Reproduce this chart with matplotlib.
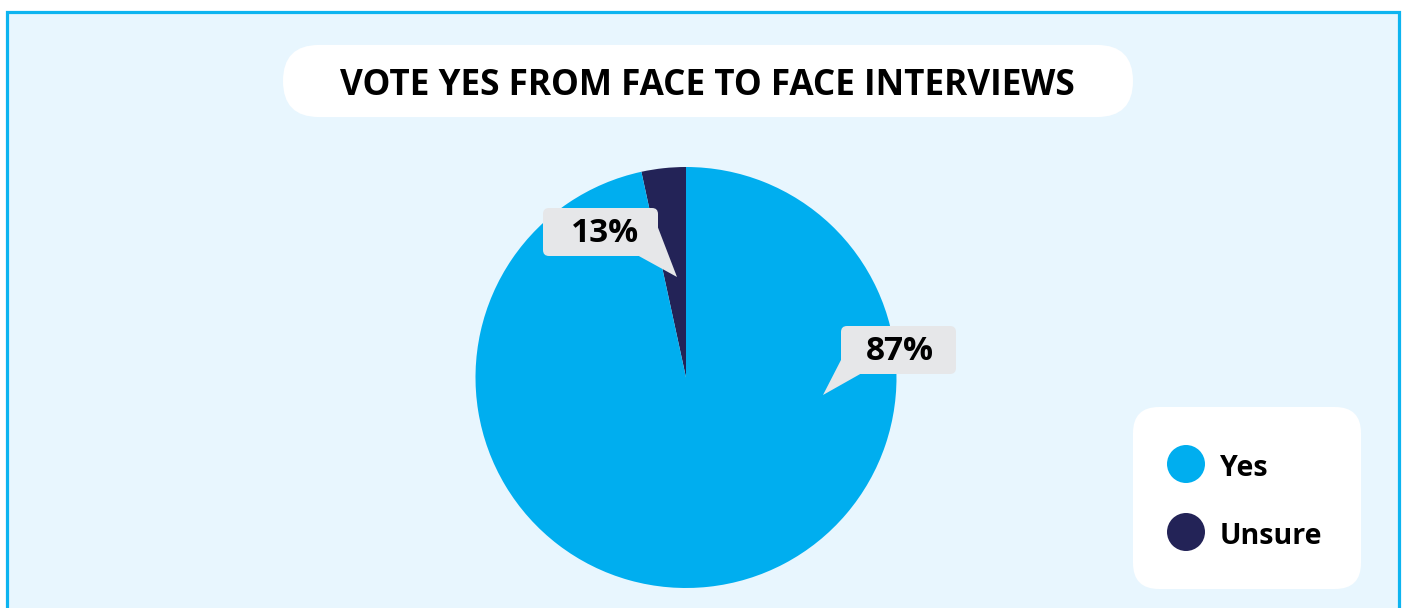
import matplotlib.pyplot as plt
from matplotlib.patches import FancyBboxPatch, Polygon, Rectangle, Circle

W, H = 1402, 608

# data
categories = ['Yes', 'Unsure']
shares     = [96.6, 3.4]          # slice sizes as drawn
pct_labels = ['87%', '13%']       # labels as printed on the chart
colors     = ['#00AEEF', '#232357']
title      = 'VOTE YES FROM FACE TO FACE INTERVIEWS'

BG      = '#E8F6FE'
BORDER  = '#0DB4F0'
CALLOUT = '#E6E7E9'
FONT    = ['Open Sans', 'DejaVu Sans']


def Y(y):
    # pixel row (top = 0) -> axes y
    return H - y


fig = plt.figure(figsize=(W / 100, H / 100), dpi=100)
fig.patch.set_facecolor('white')
ax = fig.add_axes([0, 0, 1, 1])

# background panel with blue border
ax.add_patch(Rectangle((6.5, Y(700)), 1392, 700 - 11.5, facecolor=BG,
                       edgecolor=BORDER, linewidth=2.3, zorder=0))

# title pill
ax.add_patch(FancyBboxPatch((283 + 36, Y(81) - 0.05), 850 - 72, 0.1,
                            boxstyle='round,pad=36', facecolor='white',
                            edgecolor='none', zorder=1))
ax.text(707, Y(86), title, ha='center', va='center', fontsize=25.3,
        fontweight='bold', family=FONT, color='black', zorder=2)

# pie: Unsure first so it sits just left of 12 o'clock
ax.pie(shares[::-1], colors=colors[::-1], startangle=90, counterclock=True,
       center=(686, Y(377.5)), radius=210.5,
       wedgeprops=dict(linewidth=0), frame=True)

# callouts
callouts = [
    # box (x0, y0, x1, y1), tail polygon, text x offset, label
    ((543, 208, 658, 256), [(637, 255), (677, 277), (657, 225)], 5, pct_labels[1]),
    ((841, 326, 956, 374), [(842, 358), (823, 395), (862, 373)], 1, pct_labels[0]),
]
for (x0, y0, x1, y1), tail, dx, lab in callouts:
    r = 6
    ax.add_patch(FancyBboxPatch((x0 + r, Y(y1) + r), (x1 - x0) - 2 * r,
                                (y1 - y0) - 2 * r, boxstyle=f'round,pad={r}',
                                facecolor=CALLOUT, edgecolor='none', zorder=3))
    ax.add_patch(Polygon([(px, Y(py)) for px, py in tail], closed=True,
                         facecolor=CALLOUT, edgecolor='none', zorder=3))
    ax.text((x0 + x1) / 2 + dx, Y((y0 + y1) / 2 + 2), lab, ha='center', va='center',
            fontsize=24, fontweight='bold', family=FONT, color='black', zorder=4)

# legend box
ax.add_patch(FancyBboxPatch((1133 + 26, Y(589) + 26), 228 - 52, 182 - 52,
                            boxstyle='round,pad=26', facecolor='white',
                            edgecolor='none', zorder=1))
for i, (cat, col) in enumerate(zip(categories, colors)):
    cy = 464 + i * 68
    ax.add_patch(Circle((1186, Y(cy)), 19, facecolor=col, edgecolor='none', zorder=2))
    ax.text(1220, Y(cy + 4), cat, ha='left', va='center', fontsize=20.5,
            fontweight='bold', family=FONT, color='black', zorder=2)

ax.set_xlim(0, W)
ax.set_ylim(0, H)
ax.set_aspect('equal')
ax.axis('off')

fig.savefig('out.png', dpi=100, facecolor=fig.get_facecolor())
